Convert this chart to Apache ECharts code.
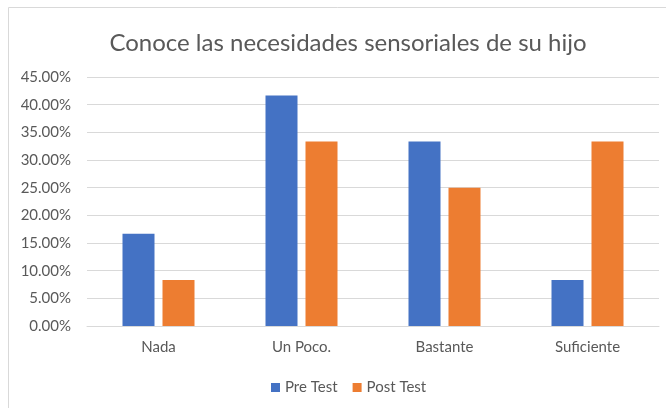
<!DOCTYPE html>
<html>
<head>
<meta charset="utf-8">
<script src="https://cdn.jsdelivr.net/npm/echarts@6/dist/echarts.min.js"></script>
<style>
  html, body { margin: 0; padding: 0; background: #fff; }
  #chart { width: 666px; height: 408px; }
</style>
</head>
<body>
<div id="chart"></div>
<script>
// datos
const categories = ['Nada', 'Un Poco.', 'Bastante', 'Suficiente'];
const preTest = [16.67, 41.67, 33.33, 8.33];
const postTest = [8.33, 33.33, 25.0, 33.33];
const seriesNames = ['Pre Test', 'Post Test'];

const chart = echarts.init(document.getElementById('chart'));
const txt = '#595959';
const font = 'Lato, "Open Sans", sans-serif';

let option = {
  animation: false,
  graphic: [{
    type: 'rect',
    shape: { x: 8.5, y: 7.5, width: 700, height: 420 },
    style: { fill: 'none', stroke: '#d9d9d9', lineWidth: 1 }
  }],
  title: {
    text: 'Conoce las necesidades sensoriales de su hijo',
    left: 343,
    textAlign: 'center',
    top: 26,
    textStyle: { color: txt, fontSize: 24, fontWeight: 'normal', fontFamily: font }
  },
  legend: {
    data: seriesNames,
    left: 266,
    top: 375,
    itemWidth: 9,
    itemHeight: 9,
    itemGap: 15,
    icon: 'rect',
    textStyle: { color: txt, fontSize: 15, fontFamily: font }
  },
  grid: { left: 87, right: 7, top: 77, bottom: 82 },
  xAxis: {
    type: 'category',
    data: categories,
    axisLine: { lineStyle: { color: '#d9d9d9' } },
    axisTick: { show: false },
    axisLabel: { color: txt, fontSize: 15, fontFamily: font, margin: 14 }
  },
  yAxis: {
    type: 'value',
    min: 0,
    max: 45,
    interval: 5,
    axisLine: { show: false },
    axisTick: { show: false },
    splitLine: { lineStyle: { color: '#d9d9d9' } },
    axisLabel: {
      color: txt, fontSize: 15, fontFamily: font, margin: 16,
      formatter: v => v.toFixed(2) + '%'
    }
  },
  series: [
    {
      name: seriesNames[0], type: 'bar', data: preTest,
      barWidth: 32, barGap: '25%',
      itemStyle: { color: '#4472C4' }
    },
    {
      name: seriesNames[1], type: 'bar', data: postTest,
      barWidth: 32,
      itemStyle: { color: '#ED7D31' }
    }
  ]
};
chart.setOption(option);
</script>
</body>
</html>
